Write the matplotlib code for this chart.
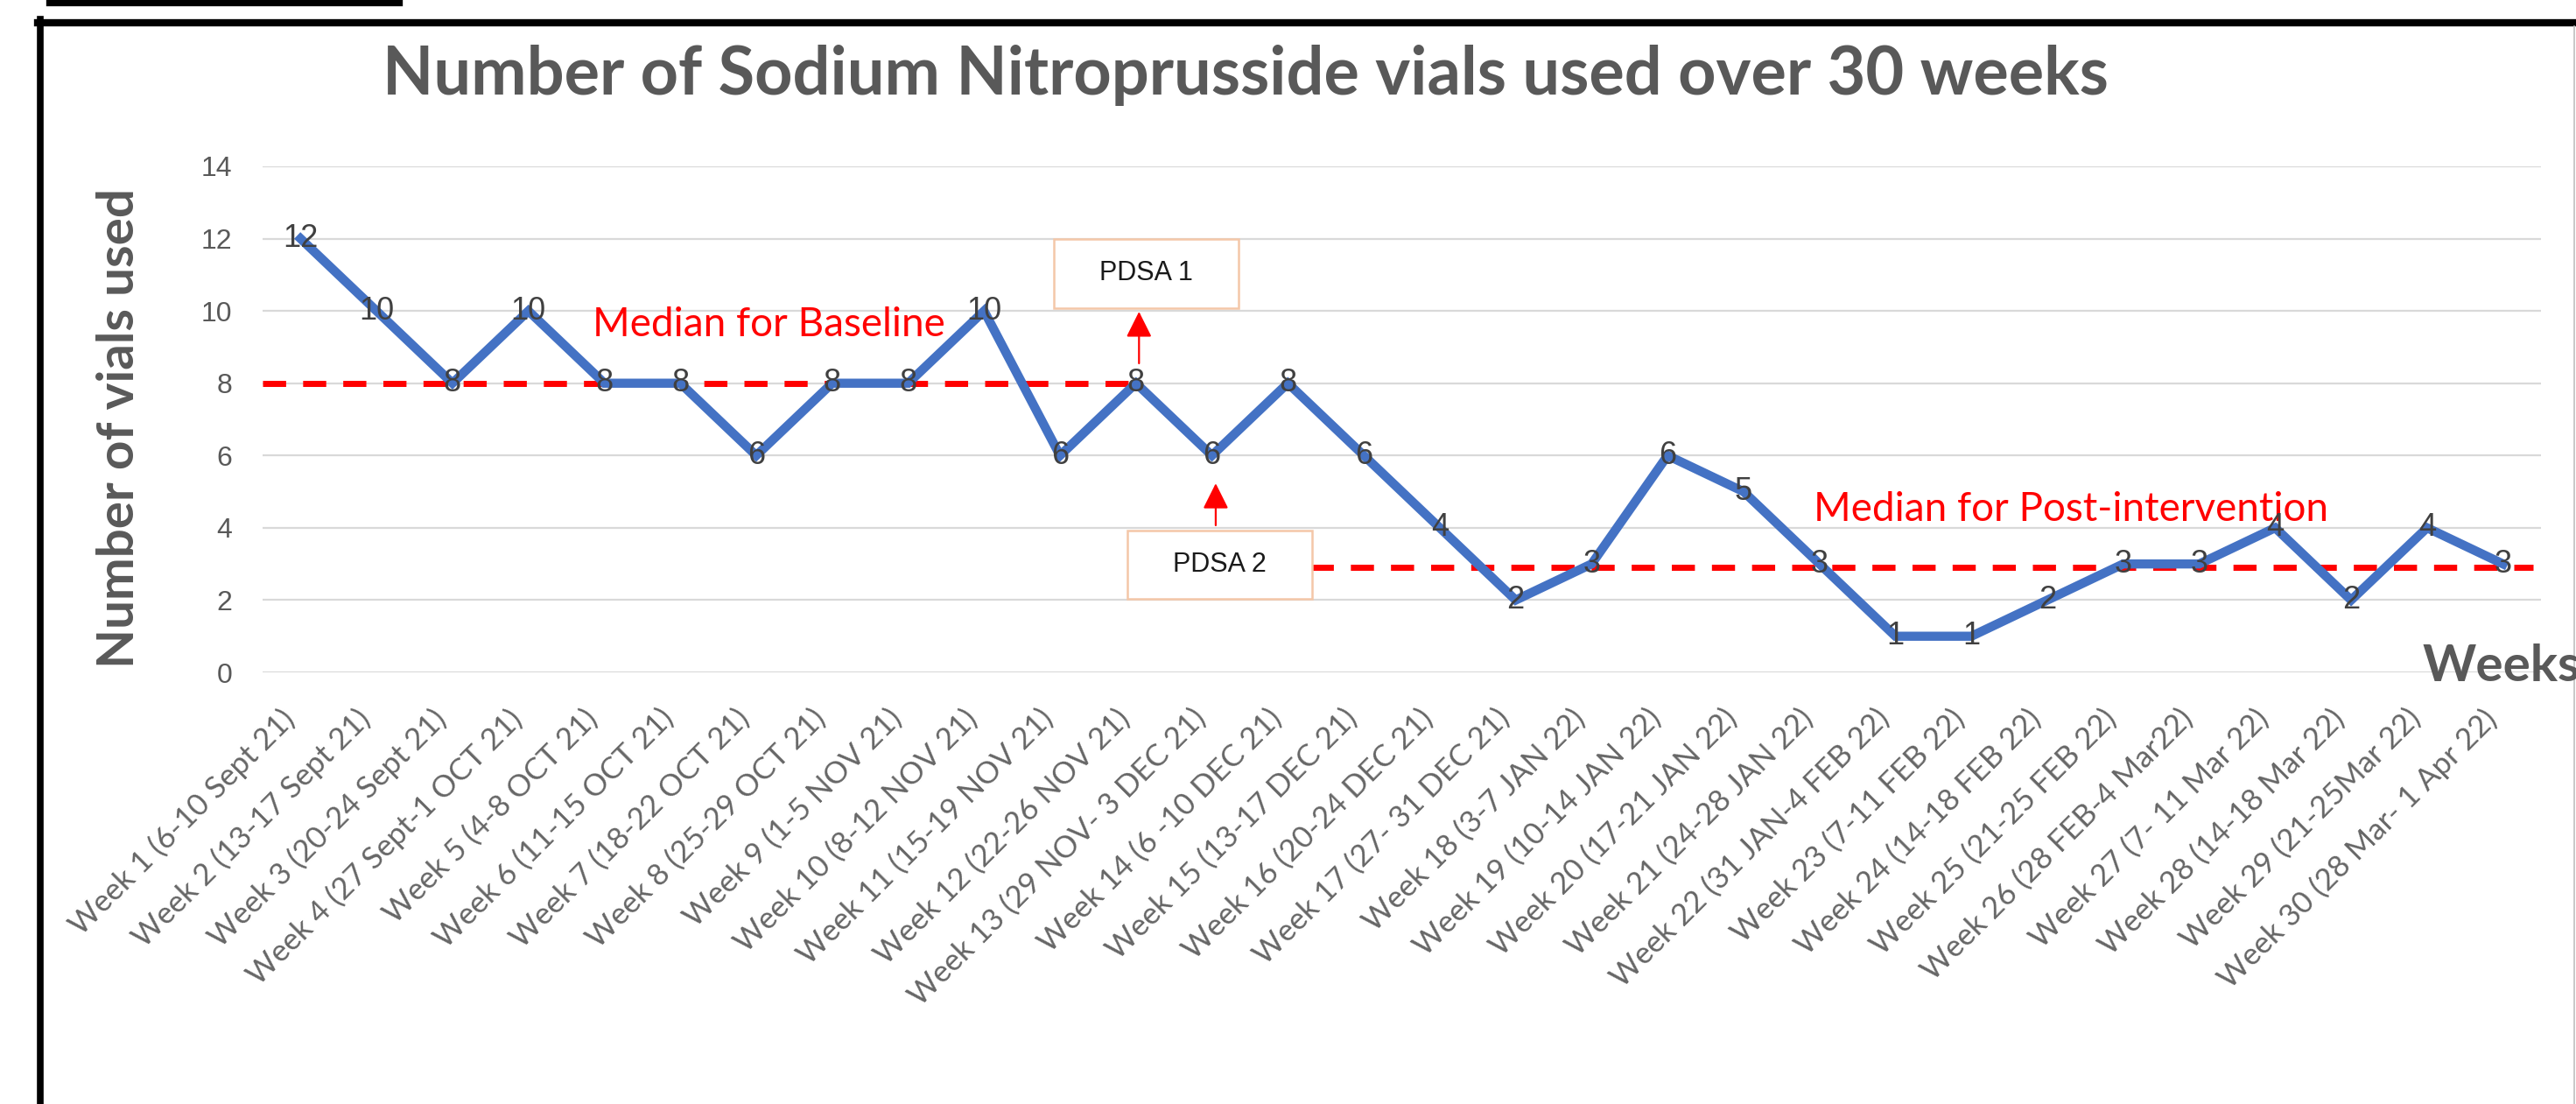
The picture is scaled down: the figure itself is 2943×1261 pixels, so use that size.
import matplotlib
matplotlib.use('Agg')
import matplotlib.pyplot as plt
from matplotlib.patches import Rectangle
from matplotlib.lines import Line2D
import matplotlib.transforms as mtransforms

# data
weeks = [
    'Week 1 (6-10 Sept 21)', 'Week 2 (13-17 Sept 21)', 'Week 3 (20-24 Sept 21)',
    'Week 4 (27 Sept-1 OCT 21)', 'Week 5 (4-8 OCT 21)', 'Week 6 (11-15 OCT 21)',
    'Week 7 (18-22 OCT 21)', 'Week 8 (25-29 OCT 21)', 'Week 9 (1-5 NOV 21)',
    'Week 10 (8-12 NOV 21)', 'Week 11 (15-19 NOV 21)', 'Week 12 (22-26 NOV 21)',
    'Week 13 (29 NOV- 3 DEC 21)', 'Week 14 (6 -10 DEC 21)', 'Week 15 (13-17 DEC 21)',
    'Week 16 (20-24 DEC 21)', 'Week 17 (27- 31 DEC 21)', 'Week 18 (3-7 JAN 22)',
    'Week 19 (10-14 JAN 22)', 'Week 20 (17-21 JAN 22)', 'Week 21 (24-28 JAN 22)',
    'Week 22 (31 JAN-4 FEB 22)', 'Week 23 (7-11 FEB 22)', 'Week 24 (14-18 FEB 22)',
    'Week 25 (21-25 FEB 22)', 'Week 26 (28 FEB-4 Mar22)', 'Week 27 (7- 11 Mar 22)',
    'Week 28 (14-18 Mar 22)', 'Week 29 (21-25Mar 22)', 'Week 30 (28 Mar- 1 Apr 22)',
]
vials = [12, 10, 8, 10, 8, 8, 6, 8, 8, 10, 6, 8, 6, 8, 6, 4, 2, 3, 6, 5,
         3, 1, 1, 2, 3, 3, 4, 2, 4, 3]

# median lines: (value, first week index, last week index)
baseline_median = (8, -0.5, 11)
post_median = (2.9, 13.3, 29.4)

# PDSA annotations: label, box centre (week index, value), arrow tail, arrow tip
pdsa_labels = ['PDSA 1', 'PDSA 2']
pdsa_box_xy = [(11.13, 11.04), (12.1, 2.98)]
pdsa_arrow_tail = [(11.04, 8.55), (12.05, 4.07)]
pdsa_arrow_tip = [(11.04, 9.98), (12.05, 5.23)]

W, H = 2943, 1261
GRAY = '#595959'
BLUE = '#4472C4'

fig = plt.figure(figsize=(W / 100, H / 100), dpi=100)
fig.patch.set_facecolor('white')

def fx(px):
    return px / W

def fy(py):
    return 1 - py / H

ax = fig.add_axes([fx(300), fy(768), (2903 - 300) / W, (768 - 190) / H])
x = list(range(len(vials)))

ax.set_xlim(-0.5, len(vials) - 0.5)
ax.set_ylim(0, 14)
ax.set_yticks(range(0, 15, 2))
ax.yaxis.grid(True, color='#D9D9D9', lw=1.6)
ax.set_axisbelow(True)
for s in ax.spines.values():
    s.set_visible(False)
ax.tick_params(axis='both', length=0)
ax.tick_params(axis='y', pad=25, labelsize=23, labelcolor=GRAY)
for lab in ax.get_yticklabels():
    lab.set_fontfamily('Liberation Sans')

ax.set_xticks(x)
ax.set_xticklabels(weeks, rotation=45, ha='right', va='top',
                   rotation_mode='anchor', fontsize=25, color='#666666',
                   fontfamily='Lato')
ax.tick_params(axis='x', pad=26)
offset = mtransforms.ScaledTranslation(-0.24, 0, fig.dpi_scale_trans)
for lab in ax.get_xticklabels():
    lab.set_transform(lab.get_transform() + offset)

# medians
for med, x0, x1 in [baseline_median, post_median]:
    ax.plot([x0, x1], [med, med], color='#FF0000', lw=5,
            dashes=(3.8, 2.8), zorder=2)

ax.plot(x, vials, color=BLUE, lw=7.5, zorder=3, solid_joinstyle='miter')

for xi, v in zip(x, vials):
    ax.text(xi, v, str(v), ha='center', va='center', fontsize=26,
            color='#404040', family='Liberation Sans', zorder=4)

ax.text(3.85, 9.62, 'Median for Baseline', color='#FF0000', fontsize=33,
        family='Lato', ha='left', va='center')
ax.text(19.92, 4.5, 'Median for Post-intervention', color='#FF0000',
        fontsize=33, family='Lato', ha='left', va='center')

# PDSA boxes and arrows
box_w, box_h = 2.43, 1.91
for lab, (bx, by), tail, tip in zip(pdsa_labels, pdsa_box_xy,
                                    pdsa_arrow_tail, pdsa_arrow_tip):
    ax.add_patch(Rectangle((bx - box_w / 2, by - box_h / 2), box_w, box_h,
                           facecolor='white', edgecolor='#F4C7A8', lw=1.8,
                           zorder=5))
    ax.text(bx, by, lab, ha='center', va='center', fontsize=22,
            family='Liberation Sans', color='#1a1a1a', zorder=6)
    ax.annotate('', xy=tip, xytext=tail,
                arrowprops=dict(arrowstyle='-|>', color='#FF0000', lw=1.6,
                                mutation_scale=45, shrinkA=0, shrinkB=0),
                zorder=6)

# titles
fig.text(fx(1423), fy(108), 'Number of Sodium Nitroprusside vials used over 30 weeks',
         ha='center', va='baseline', fontsize=54.5, fontweight='bold',
         family='Lato', color=GRAY)
fig.text(fx(137), fy(489), 'Number of vials used', rotation=90,
         ha='center', va='center', fontsize=42, fontweight='bold',
         family='Lato', color=GRAY)
fig.text(fx(2768), fy(762), 'Weeks', ha='left', va='center', fontsize=42,
         fontweight='bold', family='Lato', color=GRAY)

# outer frame of the pasted picture
fig.add_artist(Line2D([fx(43), fx(W)], [fy(26), fy(26)], color='black', lw=6))
fig.add_artist(Line2D([fx(46), fx(46)], [fy(22), fy(H)], color='black', lw=5.5))
fig.add_artist(Line2D([fx(2941), fx(2941)], [fy(30), fy(H)], color='#BFBFBF', lw=1.2))
fig.add_artist(Line2D([fx(57), fx(456)], [fy(3), fy(3)], color='black', lw=6))

fig.savefig('out.png', dpi=100, facecolor='white')
